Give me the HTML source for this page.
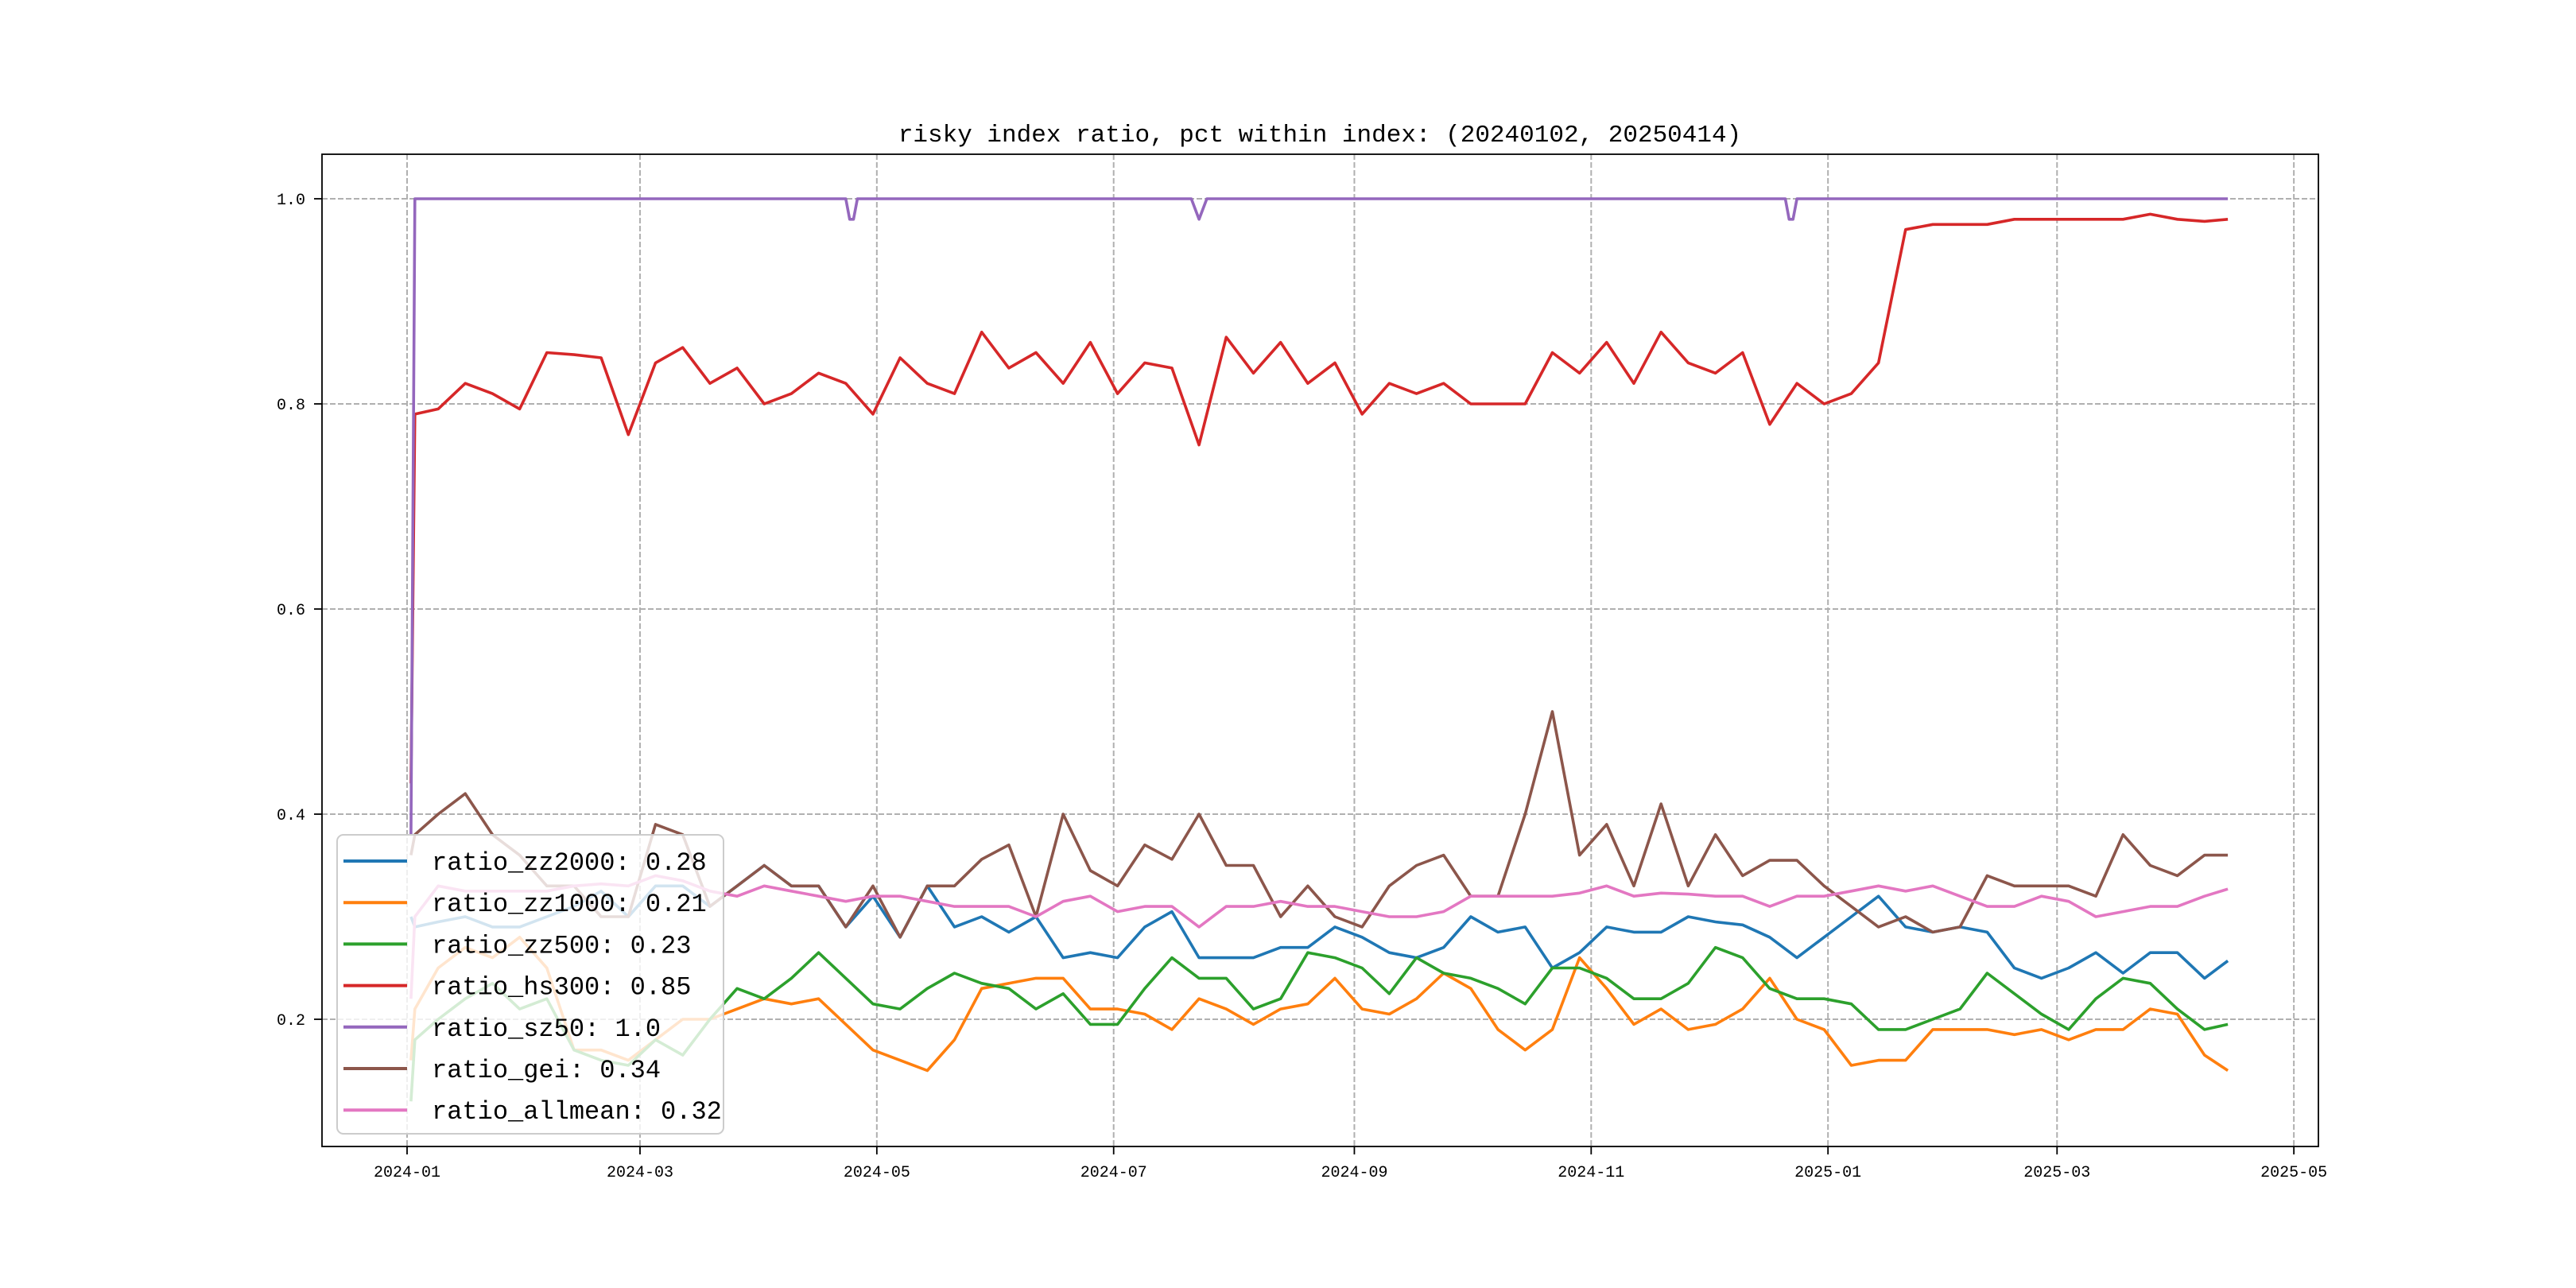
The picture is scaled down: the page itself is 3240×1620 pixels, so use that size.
<!DOCTYPE html>
<html><head><meta charset="utf-8"><style>
html,body{margin:0;padding:0;background:#fff;}
svg{display:block;font-family:"Liberation Mono","DejaVu Sans Mono",monospace;}
</style></head><body>
<svg id="chart" width="3240" height="1620" viewBox="0 0 3240 1620" xmlns="http://www.w3.org/2000/svg">
<rect x="0" y="0" width="3240" height="1620" fill="#fff"/>
<g id="grid"></g>
<g id="series"></g>
<rect x="405" y="194" width="2511" height="1248" fill="none" stroke="#000" stroke-width="1.8"/>
<g id="ticks"></g>
<text x="1660" y="178" text-anchor="middle" font-size="31" fill="#000">risky index ratio, pct within index: (20240102, 20250414)</text>
<g id="legend"></g>
</svg>
<script>
const days = [1,2,8,15,22,29,36,43,50,57,64,71,78,85,92,99,106,113,120,127,134,141,148,155,162,169,176,183,190,197,204,211,218,225,232,239,246,253,260,267,274,281,288,295,302,309,316,323,330,337,344,351,358,365,372,379,386,393,400,407,414,421,428,435,442,449,456,463,469];
const zz2000 = [0.30,0.29,0.295,0.30,0.29,0.29,0.30,0.31,0.325,0.30,0.33,0.33,0.31,0.33,0.35,0.33,0.33,0.29,0.32,0.28,0.33,0.29,0.30,0.285,0.30,0.26,0.265,0.26,0.29,0.305,0.26,0.26,0.26,0.27,0.27,0.29,0.28,0.265,0.26,0.27,0.30,0.285,0.29,0.25,0.265,0.29,0.285,0.285,0.30,0.295,0.292,0.28,0.26,0.28,0.30,0.32,0.29,0.285,0.29,0.285,0.25,0.24,0.25,0.265,0.245,0.265,0.265,0.24,0.257];
const zz1000 = [0.16,0.21,0.25,0.27,0.26,0.28,0.25,0.17,0.17,0.16,0.18,0.20,0.20,0.21,0.22,0.215,0.22,0.195,0.17,0.16,0.15,0.18,0.23,0.235,0.24,0.24,0.21,0.21,0.205,0.19,0.22,0.21,0.195,0.21,0.215,0.24,0.21,0.205,0.22,0.245,0.23,0.19,0.17,0.19,0.26,0.23,0.195,0.21,0.19,0.195,0.21,0.24,0.20,0.19,0.155,0.16,0.16,0.19,0.19,0.19,0.185,0.19,0.18,0.19,0.19,0.21,0.205,0.165,0.15];
const zz500 = [0.12,0.18,0.20,0.22,0.235,0.21,0.22,0.17,0.16,0.155,0.18,0.165,0.20,0.23,0.22,0.24,0.265,0.24,0.215,0.21,0.23,0.245,0.235,0.23,0.21,0.225,0.195,0.195,0.23,0.26,0.24,0.24,0.21,0.22,0.265,0.26,0.25,0.225,0.26,0.245,0.24,0.23,0.215,0.25,0.25,0.24,0.22,0.22,0.235,0.27,0.26,0.23,0.22,0.22,0.215,0.19,0.19,0.20,0.21,0.245,0.225,0.205,0.19,0.22,0.24,0.235,0.21,0.19,0.195];
const hs300 = [0.43,0.79,0.795,0.82,0.81,0.795,0.85,0.848,0.845,0.77,0.84,0.855,0.82,0.835,0.80,0.81,0.83,0.82,0.79,0.845,0.82,0.81,0.87,0.835,0.85,0.82,0.86,0.81,0.84,0.835,0.76,0.865,0.83,0.86,0.82,0.84,0.79,0.82,0.81,0.82,0.80,0.80,0.80,0.85,0.83,0.86,0.82,0.87,0.84,0.83,0.85,0.78,0.82,0.80,0.81,0.84,0.97,0.975,0.975,0.975,0.98,0.98,0.98,0.98,0.98,0.985,0.98,0.978,0.98];
const sz50Days = [1,2,113,114,115,116,202,204,206,355,356,357,358,469];
const sz50 = [0.38,1,1,0.98,0.98,1,1,0.98,1,1,0.98,0.98,1,1];
const gei = [0.36,0.38,0.40,0.42,0.38,0.36,0.33,0.33,0.30,0.30,0.39,0.38,0.31,0.33,0.35,0.33,0.33,0.29,0.33,0.28,0.33,0.33,0.356,0.37,0.30,0.40,0.345,0.33,0.37,0.356,0.40,0.35,0.35,0.30,0.33,0.30,0.29,0.33,0.35,0.36,0.32,0.32,0.40,0.50,0.36,0.39,0.33,0.41,0.33,0.38,0.34,0.355,0.355,0.33,0.31,0.29,0.30,0.285,0.29,0.34,0.33,0.33,0.33,0.32,0.38,0.35,0.34,0.36,0.36];
const allmean = [0.22,0.30,0.33,0.325,0.325,0.325,0.325,0.33,0.332,0.33,0.34,0.335,0.325,0.32,0.33,0.325,0.32,0.315,0.32,0.32,0.315,0.31,0.31,0.31,0.30,0.315,0.32,0.305,0.31,0.31,0.29,0.31,0.31,0.315,0.31,0.31,0.305,0.30,0.30,0.305,0.32,0.32,0.32,0.32,0.323,0.33,0.32,0.323,0.322,0.32,0.32,0.31,0.32,0.32,0.325,0.33,0.325,0.33,0.32,0.31,0.31,0.32,0.315,0.30,0.305,0.31,0.31,0.32,0.327];
const seriesNames = ["ratio_zz2000","ratio_zz1000","ratio_zz500","ratio_hs300","ratio_sz50","ratio_gei","ratio_allmean"];
const seriesLabels = ["ratio_zz2000: 0.28","ratio_zz1000: 0.21","ratio_zz500: 0.23","ratio_hs300: 0.85","ratio_sz50: 1.0","ratio_gei: 0.34","ratio_allmean: 0.32"];
const yTicks = [0.2,0.4,0.6,0.8,1.0];
const yTickLabels = ["0.2","0.4","0.6","0.8","1.0"];
const xTickDays = [0,60,121,182,244,305,366,425,486];
const xTickLabels = ["2024-01","2024-03","2024-05","2024-07","2024-09","2024-11","2025-01","2025-03","2025-05"];

const colors = ["#1f77b4","#ff7f0e","#2ca02c","#d62728","#9467bd","#8c564b","#e377c2"];
const allSeries = [zz2000,zz1000,zz500,hs300,sz50,gei,allmean];
const allDays = [days,days,days,days,sz50Days,days,days];
const NS="http://www.w3.org/2000/svg";
function xs(d){return 512+d*4.883;}
function ys(v){return 250+(1-v)*1290;}
function mk(tag,attrs,parent){const e=document.createElementNS(NS,tag);for(const k in attrs)e.setAttribute(k,attrs[k]);parent.appendChild(e);return e;}
const grid=document.getElementById('grid'),ticks=document.getElementById('ticks'),ser=document.getElementById('series'),leg=document.getElementById('legend');
yTicks.forEach((v,i)=>{
  const y=ys(v);
  const g=mk('line',{x1:405,x2:2916,y1:y,y2:y,stroke:'#b0b0b0','stroke-width':2,'stroke-dasharray':'7,3'},grid);
  
  
  const t=mk('line',{x1:395,x2:405,y1:y,y2:y,stroke:'#000','stroke-width':1.8},ticks);
  
  
  const l=mk('text',{x:384,y:y+7,'text-anchor':'end','font-size':20,fill:'#000'},ticks);
  l.textContent=yTickLabels[i];
  
  
});
xTickDays.forEach((d,i)=>{
  const x=xs(d);
  const g=mk('line',{x1:x,x2:x,y1:194,y2:1442,stroke:'#b0b0b0','stroke-width':2,'stroke-dasharray':'7,3'},grid);
  
  
  const t=mk('line',{x1:x,x2:x,y1:1442,y2:1452,stroke:'#000','stroke-width':1.8},ticks);
  
  
  const l=mk('text',{x:x,y:1480,'text-anchor':'middle','font-size':20,fill:'#000'},ticks);
  l.textContent=xTickLabels[i];
  
  
});
allSeries.forEach((vals,si)=>{
  const dd=allDays[si];
  const d=vals.map((v,i)=>(i?'L':'M')+xs(dd[i]).toFixed(1)+','+ys(v).toFixed(1)).join('');
  const p=mk('path',{d:d,fill:'none',stroke:colors[si],'stroke-width':3.6,'stroke-linejoin':'round'},ser);
  
  
});
const box=mk('rect',{x:424,y:1050,width:486,height:376,rx:8,fill:'rgba(255,255,255,0.8)',stroke:'#cccccc','stroke-width':2},leg);


seriesLabels.forEach((s,i)=>{
  const y=1083+i*52.2;
  const h=mk('line',{x1:432,x2:512,y1:y,y2:y,stroke:colors[i],'stroke-width':4},leg);
  
  
  const t=mk('text',{x:543,y:y+11,'font-size':32,fill:'#000'},leg);
  t.textContent=s;
  
  
});
</script>
</body></html>
